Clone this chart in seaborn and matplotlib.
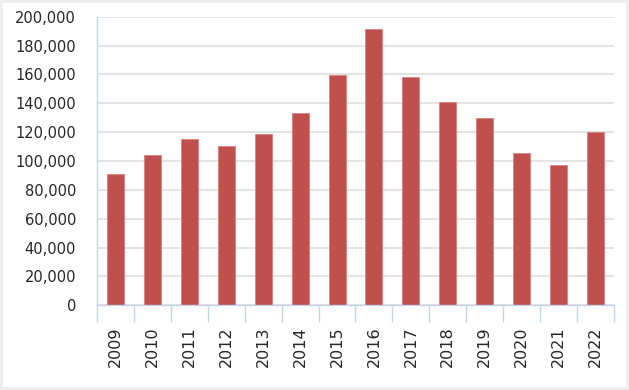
import matplotlib
matplotlib.use("Agg")
import matplotlib.pyplot as plt
import seaborn as sns
import pandas as pd
import numpy as np
from matplotlib.patches import Rectangle
from matplotlib.ticker import FuncFormatter, MultipleLocator, FixedLocator

years = ["2009", "2010", "2011", "2012", "2013", "2014", "2015",
         "2016", "2017", "2018", "2019", "2020", "2021", "2022"]
values = [91000, 104500, 115500, 110500, 119000, 133000, 159500,
          191500, 158500, 141000, 130000, 105500, 97000, 120000]

sns.set_theme(style="white")
plt.rcParams['font.family'] = ['DejaVu Sans']

df = pd.DataFrame({"year": years, "value": values})

fig = plt.figure(figsize=(6.29, 3.90), dpi=100)
fig.patch.set_facecolor("#EEEEEE")
fig.patches.append(Rectangle((3 / 629, 3 / 390), 623 / 629, 384 / 390,
                             transform=fig.transFigure, facecolor="white",
                             edgecolor="none", zorder=-1))

ax = fig.add_axes([97 / 629, 1 - 305.3 / 390, 517 / 629, (305.3 - 16.7) / 390])
ax.set_facecolor("none")

sns.barplot(data=df, x="year", y="value", color="#C0504D", width=0.46,
            saturation=1, edgecolor="#D9807E", linewidth=0.6, ax=ax)

ax.set_ylim(0, 200000)
ax.set_xlim(-0.5, len(years) - 0.5)
ax.yaxis.set_major_locator(MultipleLocator(20000))
ax.yaxis.set_major_formatter(FuncFormatter(lambda v, p: f"{int(v):,}"))
ax.grid(axis="y", color="#E3E3E3", linewidth=1.4)
ax.set_axisbelow(True)

for s in ["top", "right"]:
    ax.spines[s].set_visible(False)
axcol = "#C5D3EA"
ax.spines["left"].set_color(axcol)
ax.spines["bottom"].set_color(axcol)
ax.spines["left"].set_linewidth(1.0)
ax.spines["bottom"].set_linewidth(1.0)

ax.set_xlabel("")
ax.set_ylabel("")

ax.tick_params(axis="y", length=0, pad=15, labelsize=10.5, labelcolor="#262626")
ax.tick_params(axis="x", which="major", length=0, pad=15, labelsize=11.5,
               labelcolor="#262626", labelrotation=90)
ax.xaxis.set_minor_locator(FixedLocator(np.arange(-0.5, len(years), 1.0)))
ax.tick_params(axis="x", which="minor", length=12, width=1.0, color=axcol,
               direction="out", bottom=True)

fig.savefig("out.png", dpi=100, facecolor=fig.get_facecolor())
